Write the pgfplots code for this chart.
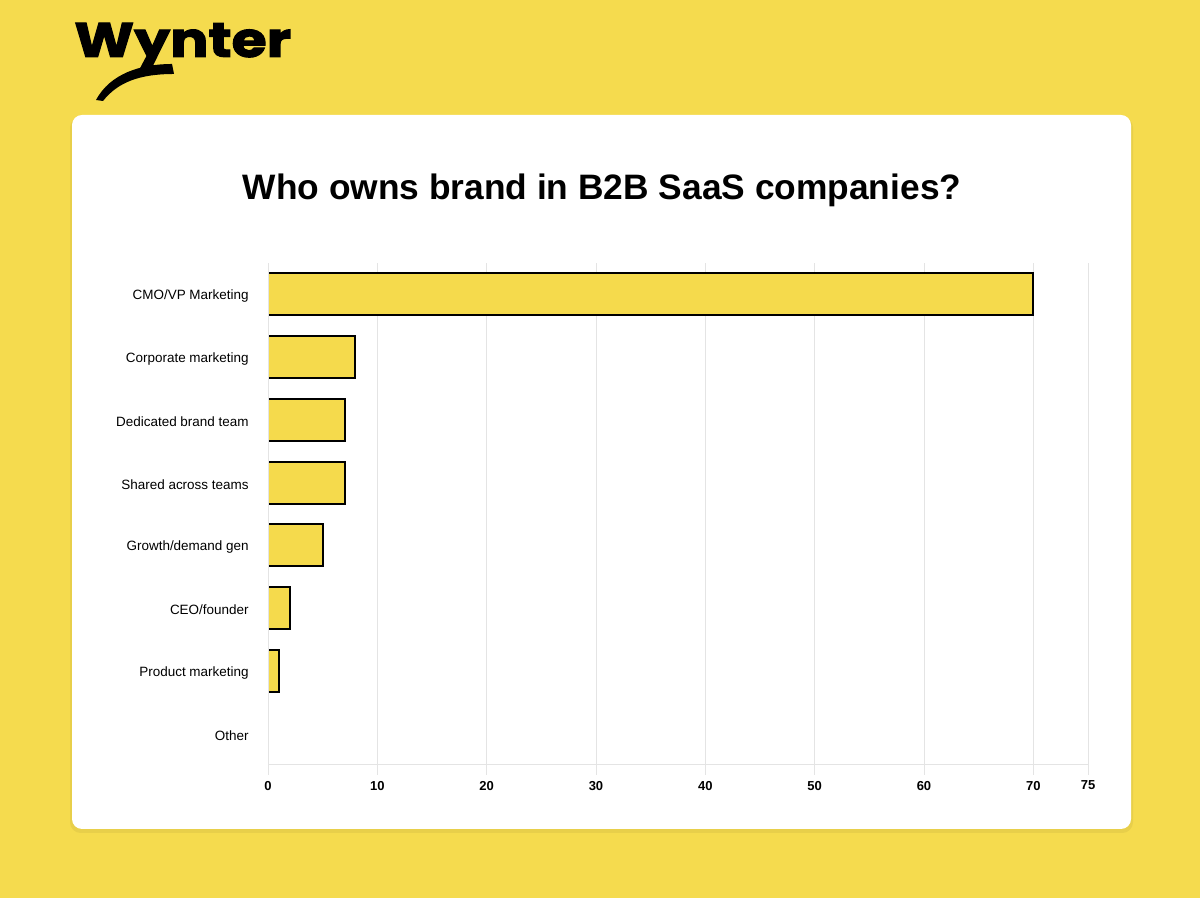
\documentclass[border=0pt]{standalone}
\usepackage{pgfplots}
\pgfplotsset{compat=1.18}
\usepackage{fontspec}
\setmainfont{Liberation Sans}
\newfontfamily\logofont{Poppins}[FakeBold=2]
\definecolor{bg}{HTML}{F5DB4E}
\definecolor{barfill}{HTML}{F5DA4C}
\definecolor{gridc}{HTML}{E4E4E4}
\begin{document}
\begin{tikzpicture}[x=0.75pt,y=0.75pt]
\fill[bg] (0,0) rectangle (1200,898);
\fill[black, opacity=0.05, rounded corners=8pt] (70,65) rectangle (1133,781);
\fill[white, rounded corners=7.5pt] (72,69) rectangle (1131,783);
\node[anchor=base west, inner sep=0] at (74,841) {\scalebox{1.17}[1]{\logofont\bfseries\fontsize{36.5}{40}\selectfont Wynter}};
\fill[black] (172,834) .. controls (140,834) and (110,824) .. (96,798) -- (103,797) .. controls (118,816) and (140,824) .. (174,824) -- cycle;
\node at (602,708) {\bfseries\fontsize{26.5}{30}\selectfont Who owns brand in B2B SaaS companies?};
\begin{axis}[
  at={(201pt,99.75pt)}, anchor=south west,
  scale only axis, width=615pt, height=376.5pt,
  xbar, bar width=31.5pt,
  xmin=0, xmax=75, ymin=-0.5, ymax=7.5, y dir=reverse,
  xtick={0,10,20,30,40,50,60,70,75},
  ytick={0,1,2,3,4,5,6,7},
  yticklabels={CMO/VP Marketing, Corporate marketing, Dedicated brand team, Shared across teams, Growth/demand gen, CEO/founder, Product marketing, Other},
  xmajorgrids, grid style={gridc, line width=0.75pt},
  axis x line*=bottom, axis y line*=left,
  axis line style={gridc, line width=0.75pt, -},
  xtick align=outside, major tick length=7.5pt,
  x tick style={gridc, line width=0.75pt},
  y tick style={draw=none},
  /pgf/number format/assume math mode=true,
  xticklabel style={font=\bfseries\fontsize{9.75}{12}\selectfont, yshift=-1pt, anchor=north},
  yticklabel style={font=\fontsize{10.1}{12}\selectfont, xshift=-3.5pt, yshift=-1.5pt},
]
\addplot[fill=barfill, draw=black, line width=1.5pt] coordinates {(70,0) (8,1) (7,2) (7,3) (5,4) (2,5) (1,6)};
\draw[gridc, line width=1.6pt] (axis cs:0,-0.5) -- (axis cs:0,7.5);
\end{axis}
\end{tikzpicture}
\end{document}
